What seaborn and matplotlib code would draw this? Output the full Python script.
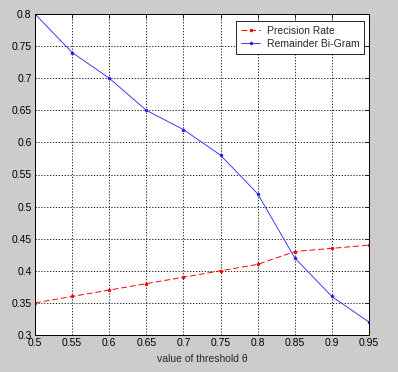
import matplotlib
matplotlib.use("Agg")
import matplotlib.pyplot as plt
import seaborn as sns
import pandas as pd

thresholds = [0.5, 0.55, 0.6, 0.65, 0.7, 0.75, 0.8, 0.85, 0.9, 0.95]
precision_rate = [0.35, 0.36, 0.37, 0.38, 0.39, 0.40, 0.41, 0.43, 0.435, 0.44]
remainder_bigram = [0.80, 0.74, 0.70, 0.65, 0.62, 0.58, 0.52, 0.42, 0.36, 0.32]
x_ticks = [0.5, 0.55, 0.6, 0.65, 0.7, 0.75, 0.8, 0.85, 0.9, 0.95]
y_ticks = [0.3, 0.35, 0.4, 0.45, 0.5, 0.55, 0.6, 0.65, 0.7, 0.75, 0.8]

sns.set_style("white")
plt.rcParams['font.family'] = ['Liberation Sans', 'DejaVu Sans']

df = pd.DataFrame({"x": thresholds, "p": precision_rate, "r": remainder_bigram})

fig = plt.figure(figsize=(3.98, 3.72), dpi=100, facecolor="#cccccc")
ax = fig.add_axes([35/398, 1 - 335/372, (369-35)/398, (335-14)/372])
ax.set_facecolor("white")

sns.lineplot(data=df, x="x", y="p", ax=ax, color="#ff0000", linestyle=(0, (6, 3)),
             linewidth=0.7, marker="o", markersize=2.5, markeredgewidth=0,
             label="Precision Rate")
sns.lineplot(data=df, x="x", y="r", ax=ax, color="#2020ff", linestyle="-",
             linewidth=0.6, marker="o", markersize=2.5, markeredgewidth=0,
             label="Remainder Bi-Gram")

ax.set_xlim(0.5, 0.95)
ax.set_ylim(0.3, 0.8)
ax.set_xticks(x_ticks)
ax.set_yticks(y_ticks)
ax.set_xticklabels([f"{v:g}" for v in x_ticks])
ax.set_yticklabels([f"{v:g}" for v in y_ticks])
ax.grid(True, color="black", linestyle=(0, (1.5, 2)), linewidth=0.6)
ax.tick_params(direction="in", length=3, width=0.6, labelsize=7.5, colors="black",
               top=True, right=True, pad=2.5)
for s in ax.spines.values():
    s.set_color("black")
    s.set_linewidth(0.7)
ax.set_xlabel("value of threshold θ", fontsize=7.5, labelpad=4)
ax.set_ylabel("")

leg = ax.legend(loc="upper right", bbox_to_anchor=(0.985, 0.978), fontsize=7.5,
                frameon=True, fancybox=False, edgecolor="black", framealpha=1,
                handlelength=1.9, handletextpad=0.6, borderpad=0.45,
                labelspacing=0.3, borderaxespad=0)
leg.get_frame().set_linewidth(0.6)

fig.savefig("out.png", dpi=100, facecolor=fig.get_facecolor())
